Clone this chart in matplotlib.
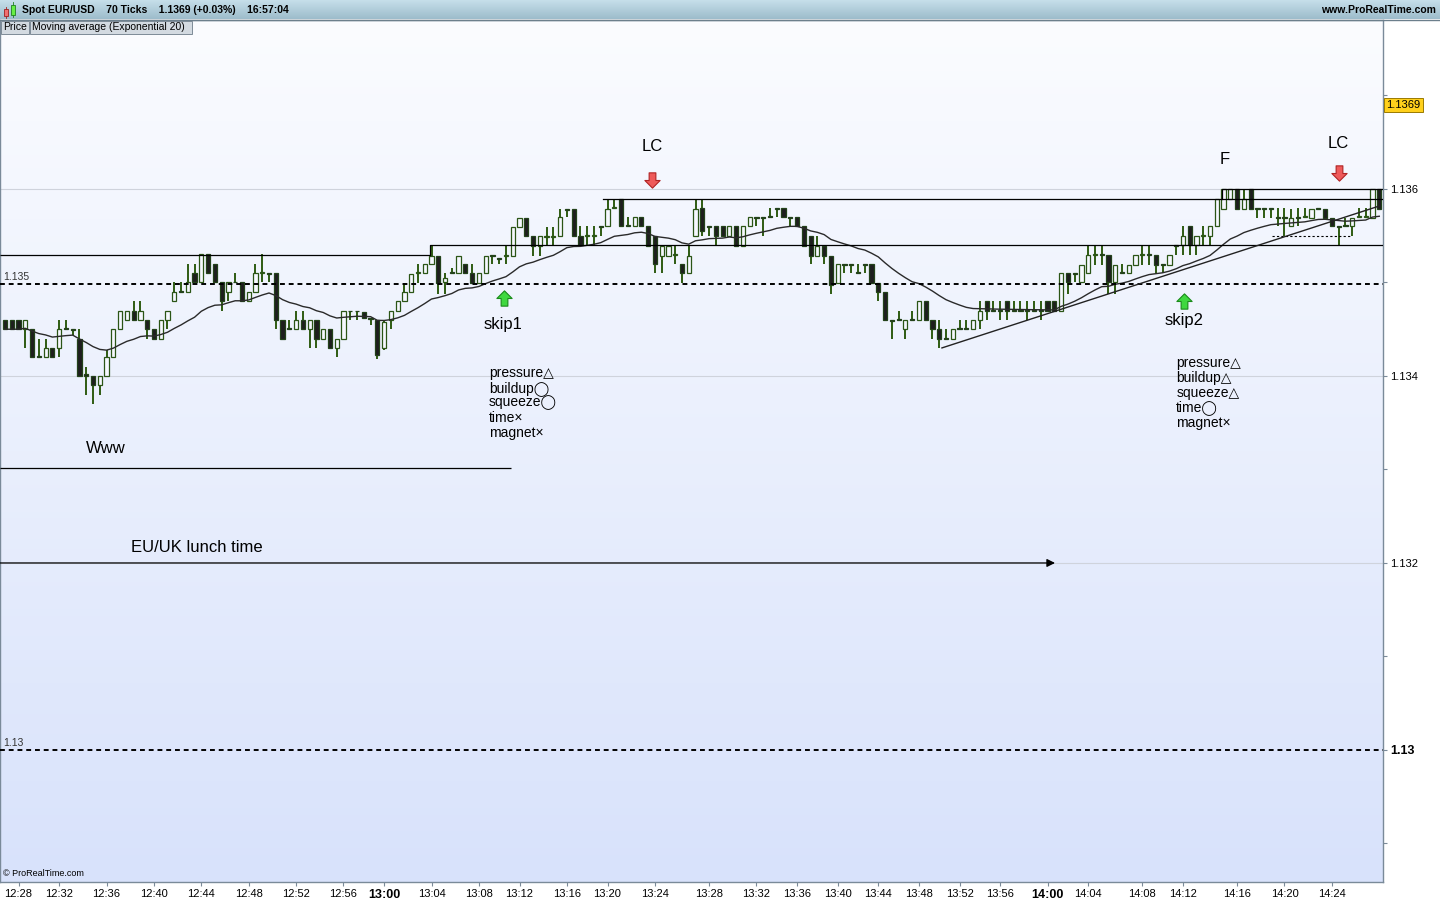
"""
Spot EUR/USD, 70-tick candles with EMA 20 and hand-drawn levels,
redrawn after a ProRealTime screenshot.
"""
import numpy as np
import pandas as pd
import matplotlib
matplotlib.use("Agg")
import matplotlib.pyplot as plt
from matplotlib.path import Path
from matplotlib.patches import Rectangle
from matplotlib.colors import LinearSegmentedColormap
from matplotlib.transforms import blended_transform_factory

plt.rcParams['font.family'] = ['Liberation Sans', 'DejaVu Sans']

# ---- candle data, in points (0.00001) above 1.13000 ----
opens = [460, 460, 460, 450, 450, 421, 420, 430, 430, 451, 450, 440, 402, 400, 390, 400, 420, 450, 460, 470,
         460, 460, 450, 440, 460, 480, 491, 490, 510, 500, 530, 520, 500, 490, 501, 500, 480, 490, 510, 510,
         510, 460, 451, 450, 460, 450, 460, 440, 450, 430, 440, 470, 470, 468, 462, 460, 430, 460, 469, 480,
         490, 510, 510, 520, 528, 500, 511, 510, 520, 510, 499, 510, 529, 526, 528, 528, 559, 569, 550, 539,
         549, 549, 550, 579, 579, 550, 550, 550, 560, 560, 580, 589, 561, 560, 570, 560, 550, 528, 528, 529,
         520, 510, 550, 580, 560, 560, 560, 550, 560, 539, 560, 570, 570, 571, 580, 580, 570, 570, 560, 550,
         528, 539, 528, 499, 520, 520, 511, 520, 520, 499, 490, 460, 461, 450, 461, 460, 480, 460, 450, 441,
         440, 451, 451, 450, 460, 480, 471, 471, 480, 471, 471, 471, 471, 471, 480, 480, 470, 510, 510, 500,
         510, 529, 530, 529, 500, 511, 510, 519, 529, 530, 529, 520, 519, 540, 540, 560, 540, 550, 550, 560,
         579, 589, 600, 579, 600, 580, 580, 580, 570, 570, 560, 570, 570, 569, 580, 579, 569, 560, 561, 560,
         570, 570, 569, 600]
highs = [460, 460, 460, 460, 450, 440, 440, 430, 460, 460, 450, 450, 410, 400, 400, 428, 450, 470, 470, 480,
         480, 460, 450, 460, 470, 500, 500, 520, 520, 530, 530, 520, 500, 500, 510, 500, 490, 520, 530, 510,
         510, 460, 460, 470, 470, 460, 460, 450, 450, 440, 470, 470, 470, 468, 462, 460, 460, 469, 480, 499,
         509, 520, 520, 539, 528, 510, 515, 528, 520, 520, 510, 528, 529, 526, 539, 559, 569, 569, 550, 550,
         559, 559, 579, 579, 579, 560, 560, 560, 560, 589, 589, 589, 570, 570, 570, 560, 550, 539, 539, 539,
         520, 539, 589, 589, 560, 560, 560, 560, 560, 560, 570, 570, 570, 580, 580, 580, 570, 570, 560, 550,
         550, 539, 528, 520, 520, 520, 520, 520, 520, 499, 490, 460, 470, 460, 470, 480, 480, 460, 460, 450,
         450, 460, 460, 460, 480, 480, 480, 480, 480, 480, 480, 480, 480, 480, 480, 480, 510, 510, 510, 519,
         540, 540, 540, 529, 519, 520, 519, 529, 540, 540, 529, 520, 529, 540, 560, 560, 550, 560, 560, 589,
         600, 600, 600, 600, 600, 580, 580, 580, 580, 580, 579, 580, 580, 579, 580, 579, 569, 560, 569, 569,
         580, 580, 600, 600]
lows = [450, 450, 450, 430, 420, 420, 420, 420, 420, 450, 444, 400, 380, 370, 380, 400, 420, 450, 460, 460,
        460, 440, 440, 440, 450, 480, 490, 490, 500, 500, 510, 500, 470, 480, 500, 480, 480, 490, 500, 500,
        450, 440, 450, 450, 450, 430, 430, 440, 430, 420, 440, 460, 460, 462, 455, 418, 428, 450, 469, 480,
        490, 499, 510, 520, 488, 488, 510, 510, 510, 499, 499, 510, 520, 520, 520, 528, 559, 550, 528, 528,
        539, 539, 550, 570, 550, 539, 539, 539, 550, 560, 579, 560, 560, 560, 560, 539, 510, 510, 528, 520,
        499, 510, 550, 550, 550, 539, 550, 550, 539, 539, 560, 560, 550, 570, 570, 570, 560, 560, 539, 520,
        528, 520, 488, 499, 510, 510, 510, 510, 499, 480, 460, 440, 460, 440, 460, 460, 460, 440, 430, 440,
        440, 450, 450, 450, 450, 460, 470, 460, 460, 470, 470, 460, 470, 460, 470, 470, 470, 488, 500, 500,
        510, 519, 519, 488, 488, 510, 510, 519, 519, 519, 510, 510, 519, 529, 529, 529, 529, 540, 540, 560,
        579, 589, 579, 579, 579, 569, 569, 569, 560, 550, 560, 560, 569, 569, 579, 569, 560, 540, 560, 550,
        569, 569, 569, 579]
closes = [450, 450, 450, 460, 420, 420, 430, 420, 450, 450, 449, 400, 400, 390, 400, 420, 450, 470, 470, 460,
          470, 450, 440, 460, 470, 490, 490, 500, 500, 530, 510, 500, 480, 500, 500, 480, 490, 510, 511, 509,
          460, 440, 450, 460, 450, 460, 440, 450, 430, 440, 470, 469, 469, 462, 461, 422, 458, 469, 480, 490,
          509, 511, 520, 528, 499, 505, 510, 528, 510, 499, 510, 528, 528, 525, 529, 559, 569, 550, 539, 550,
          550, 550, 570, 578, 550, 540, 551, 551, 559, 579, 581, 560, 560, 570, 560, 539, 520, 539, 539, 530,
          510, 528, 579, 555, 559, 550, 550, 560, 539, 560, 570, 569, 569, 570, 579, 570, 569, 560, 539, 528,
          539, 528, 497, 520, 519, 519, 510, 519, 499, 490, 460, 459, 460, 460, 460, 480, 460, 450, 440, 440,
          450, 450, 450, 460, 470, 470, 470, 470, 470, 470, 470, 470, 470, 470, 470, 470, 510, 500, 509, 519,
          529, 530, 529, 500, 519, 510, 519, 529, 530, 529, 519, 519, 529, 539, 550, 540, 550, 551, 560, 589,
          600, 600, 579, 589, 579, 579, 579, 579, 569, 569, 569, 569, 571, 579, 579, 569, 560, 559, 560, 569,
          571, 571, 600, 579]

# time axis (candle index of each label)
tick_idx = [2, 8, 15, 22, 29, 36, 43, 50, 56, 63, 70, 76, 83, 89, 96, 104, 111, 117, 123, 129,
            135, 141, 147, 154, 160, 168, 174, 182, 189, 196]
tick_labels = ['12:28', '12:32', '12:36', '12:40', '12:44', '12:48', '12:52', '12:56', '13:00', '13:04',
               '13:08', '13:12', '13:16', '13:20', '13:24', '13:28', '13:32', '13:36', '13:40', '13:44',
               '13:48', '13:52', '13:56', '14:00', '14:04', '14:08', '14:12', '14:16', '14:20', '14:24']
bold_labels = ['13:00', '14:00']

# price axis
price_ticks = [1.129, 1.130, 1.131, 1.132, 1.133, 1.134, 1.135, 1.136, 1.137]
price_labels = ['', '1.13', '', '1.132', '', '1.134', '', '1.136', '']
grid_prices = [1.132, 1.134, 1.136]
last_price = 1.1369

# hand-drawn levels
level_dashed = [1.13498, 1.13000]
level_tags = ['1.135', '1.13']
level_www = 1.13302
level_lunch = 1.13200
level_low_box = 1.13529
level_mid_box = 1.13540
level_top_box = 1.13589
level_f_box = 1.13600
level_small_dash = 1.13550
trend_idx = [138.4, 203.1]
trend_px = [1.13430, 1.13582]

note_left = ['pressure\u25b3', 'buildup\u25ef', 'squeeze\u25ef', 'time\u00d7', 'magnet\u00d7']
note_right = ['pressure\u25b3', 'buildup\u25b3', 'squeeze\u25b3', 'time\u25ef', 'magnet\u00d7']

O = 1.13 + np.array(opens) * 1e-5
H = 1.13 + np.array(highs) * 1e-5
L = 1.13 + np.array(lows) * 1e-5
C = 1.13 + np.array(closes) * 1e-5
x = np.arange(len(O))
ema = pd.Series(C).ewm(span=20, adjust=False).mean()

XMIN, XMAX = -0.74, 203.55
YMIN, YMAX = 1.128588, 1.137807

fig = plt.figure(figsize=(14.4, 9), dpi=100)
fig.patch.set_facecolor('white')
ax = fig.add_axes([0, 18 / 900, 1383 / 1440, 862 / 900])

# background gradient
cmap = LinearSegmentedColormap.from_list('bg', ['#d8e2fb', '#fbfcff'])
ax.imshow(np.linspace(0, 1, 256).reshape(-1, 1), extent=[XMIN, XMAX, YMIN, YMAX],
          aspect='auto', origin='lower', cmap=cmap, zorder=0)

for gp in grid_prices:
    ax.axhline(gp, color='#cfd3dc', lw=0.8, zorder=1)

# candles
wick = '#2e5b12'
ax.vlines(x, L, H, color=wick, lw=1.4, zorder=2)
up = C >= O
dn = ~up
ax.bar(x[up], (C - O)[up], bottom=O[up], width=0.62, facecolor='#f6f8ff',
       edgecolor='#2b5516', lw=0.9, zorder=3)
ax.bar(x[dn], (O - C)[dn], bottom=C[dn], width=0.62, facecolor='#1e1e1e',
       edgecolor='#23421a', lw=0.9, zorder=3)

ax.plot(x, ema, color='#2a2a2a', lw=1.0, zorder=4)

# levels and drawings
tr = blended_transform_factory(ax.transAxes, ax.transData)
for lv, tag in zip(level_dashed, level_tags):
    ax.axhline(lv, color='black', lw=1.4, ls=(0, (2.5, 2)), zorder=5)
    ax.text(0.002, lv + 0.00002, tag, transform=tr, fontsize=7.5, color='#333333',
            va='bottom', ha='left', zorder=5)
ax.hlines(level_low_box, XMIN, 62.8, color='black', lw=0.9, zorder=5)
ax.plot([62.8, 62.8, XMAX], [level_low_box, level_mid_box, level_mid_box], color='black', lw=0.9, zorder=5)
ax.plot([88.3, XMAX], [level_top_box, level_top_box], color='black', lw=0.9, zorder=5)
ax.plot([179.8, 179.8, XMAX], [level_top_box, level_f_box, level_f_box], color='black', lw=0.9, zorder=5)
ax.hlines(level_small_dash, 187.2, 199, color='black', lw=0.8, ls=(0, (2, 2)), zorder=5)
ax.plot(trend_idx, trend_px, color='#222222', lw=1.0, zorder=5)
ax.hlines(level_www, XMIN, 74.7, color='black', lw=0.9, zorder=5)
ax.annotate('', xy=(155.1, level_lunch), xytext=(XMIN, level_lunch),
            arrowprops=dict(arrowstyle='-|>', color='black', lw=0.9, mutation_scale=12,
                            shrinkA=0, shrinkB=0), zorder=5)

ax.text(14.9, 1.13322, 'Www', ha='center', va='center', fontsize=12)
ax.text(18.6, 1.13217, 'EU/UK lunch time', ha='left', va='center', fontsize=12)
ax.text(95.6, 1.13645, 'LC', ha='center', va='center', fontsize=12)
ax.text(197, 1.13649, 'LC', ha='center', va='center', fontsize=12)
ax.text(180.2, 1.13631, 'F', ha='center', va='center', fontsize=12)
ax.text(73.6, 1.13455, 'skip1', ha='center', va='center', fontsize=12)
ax.text(174.2, 1.13459, 'skip2', ha='center', va='center', fontsize=12)

for k, s in enumerate(note_left):
    ax.text(71.5, 1.13403 - k * 0.00016, s, ha='left', va='center', fontsize=10)
for k, s in enumerate(note_right):
    ax.text(173.0, 1.13414 - k * 0.00016, s, ha='left', va='center', fontsize=10)

# block arrows
down_arrow = Path([(-0.22, 0.5), (0.22, 0.5), (0.22, 0.0), (0.5, 0.0), (0, -0.5),
                   (-0.5, 0.0), (-0.22, 0.0), (-0.22, 0.5)], closed=True)
up_arrow = Path([(px, -py) for px, py in down_arrow.vertices], closed=True)
ax.plot([95.6, 197], [1.13610, 1.13617], ls='none', marker=down_arrow, ms=11,
        mfc='#ee5a5a', mec='#b02323', mew=0.8, zorder=6)
ax.plot([73.7, 174.2], [1.13483, 1.13480], ls='none', marker=up_arrow, ms=11,
        mfc='#3fd83f', mec='#1a8a1a', mew=0.8, zorder=6)

ax.set_xlim(XMIN, XMAX)
ax.set_ylim(YMIN, YMAX)

# axes styling
ax.set_xticks(tick_idx)
ax.set_xticklabels(tick_labels, fontsize=8)
for t in ax.get_xticklabels():
    if t.get_text() in bold_labels:
        t.set_fontweight('bold')
        t.set_fontsize(9)
ax.tick_params(axis='x', direction='out', length=3, pad=2, color='#7a8a99')
ax.yaxis.tick_right()
ax.set_yticks(price_ticks)
ax.set_yticklabels(price_labels, fontsize=8)
for t in ax.get_yticklabels():
    if t.get_text() == '1.13':
        t.set_fontweight('bold')
        t.set_fontsize(9)
ax.tick_params(axis='y', direction='out', length=3, pad=2, color='#7a8a99')
for sp in ax.spines.values():
    sp.set_color('#7a8a99')
    sp.set_linewidth(1.0)

ax.text(1.0025, last_price, '1.1369', transform=tr, fontsize=8, va='center', ha='left',
        bbox=dict(boxstyle='square,pad=0.2', fc='#ffd01c', ec='#9a7a00', lw=0.7), zorder=7)

# ---- overlay in pixel coordinates: header, tabs, credits ----
ov = fig.add_axes([0, 0, 1, 1])
ov.set_xlim(0, 1440)
ov.set_ylim(900, 0)
ov.axis('off')
ov.patch.set_alpha(0)

hcmap = LinearSegmentedColormap.from_list('hd', ['#9dbccb', '#c6dfea'])
ov.imshow(np.linspace(0, 1, 64).reshape(-1, 1), extent=[0, 1440, 19, 0], aspect='auto',
          origin='lower', cmap=hcmap, zorder=1)
ov.plot([0, 1440], [19.5, 19.5], color='#6c7f8c', lw=1.0, zorder=2)
ov.add_patch(Rectangle((4, 9), 4, 7, fc='#f07070', ec='#a02020', lw=0.6, zorder=3))
ov.plot([6, 6], [7, 18], color='#a02020', lw=0.6, zorder=2)
ov.add_patch(Rectangle((11, 5), 4, 10, fc='#66ee44', ec='#208020', lw=0.6, zorder=3))
ov.plot([13, 13], [2, 17], color='#208020', lw=0.6, zorder=2)
ov.text(22, 10, 'Spot EUR/USD    70 Ticks    1.1369 (+0.03%)    16:57:04', fontsize=7.5,
        fontweight='bold', va='center', ha='left', zorder=3)
ov.text(1436, 10, 'www.ProRealTime.com', fontsize=7.5, fontweight='bold', va='center',
        ha='right', zorder=3)

ov.add_patch(Rectangle((1, 20.5), 28, 13, fc='#d3dae1', ec='#7d8b97', lw=0.7, zorder=3))
ov.add_patch(Rectangle((30, 20.5), 162, 13, fc='#d3dae1', ec='#7d8b97', lw=0.7, zorder=3))
ov.text(3, 27.5, 'Price', fontsize=7.5, va='center', ha='left', zorder=4)
ov.text(32, 27.5, 'Moving average (Exponential 20)', fontsize=7.5, va='center', ha='left', zorder=4)
ov.text(3, 874, '\u00a9 ProRealTime.com', fontsize=6.5, va='center', ha='left', zorder=4)

fig.savefig('out.png', dpi=100)
